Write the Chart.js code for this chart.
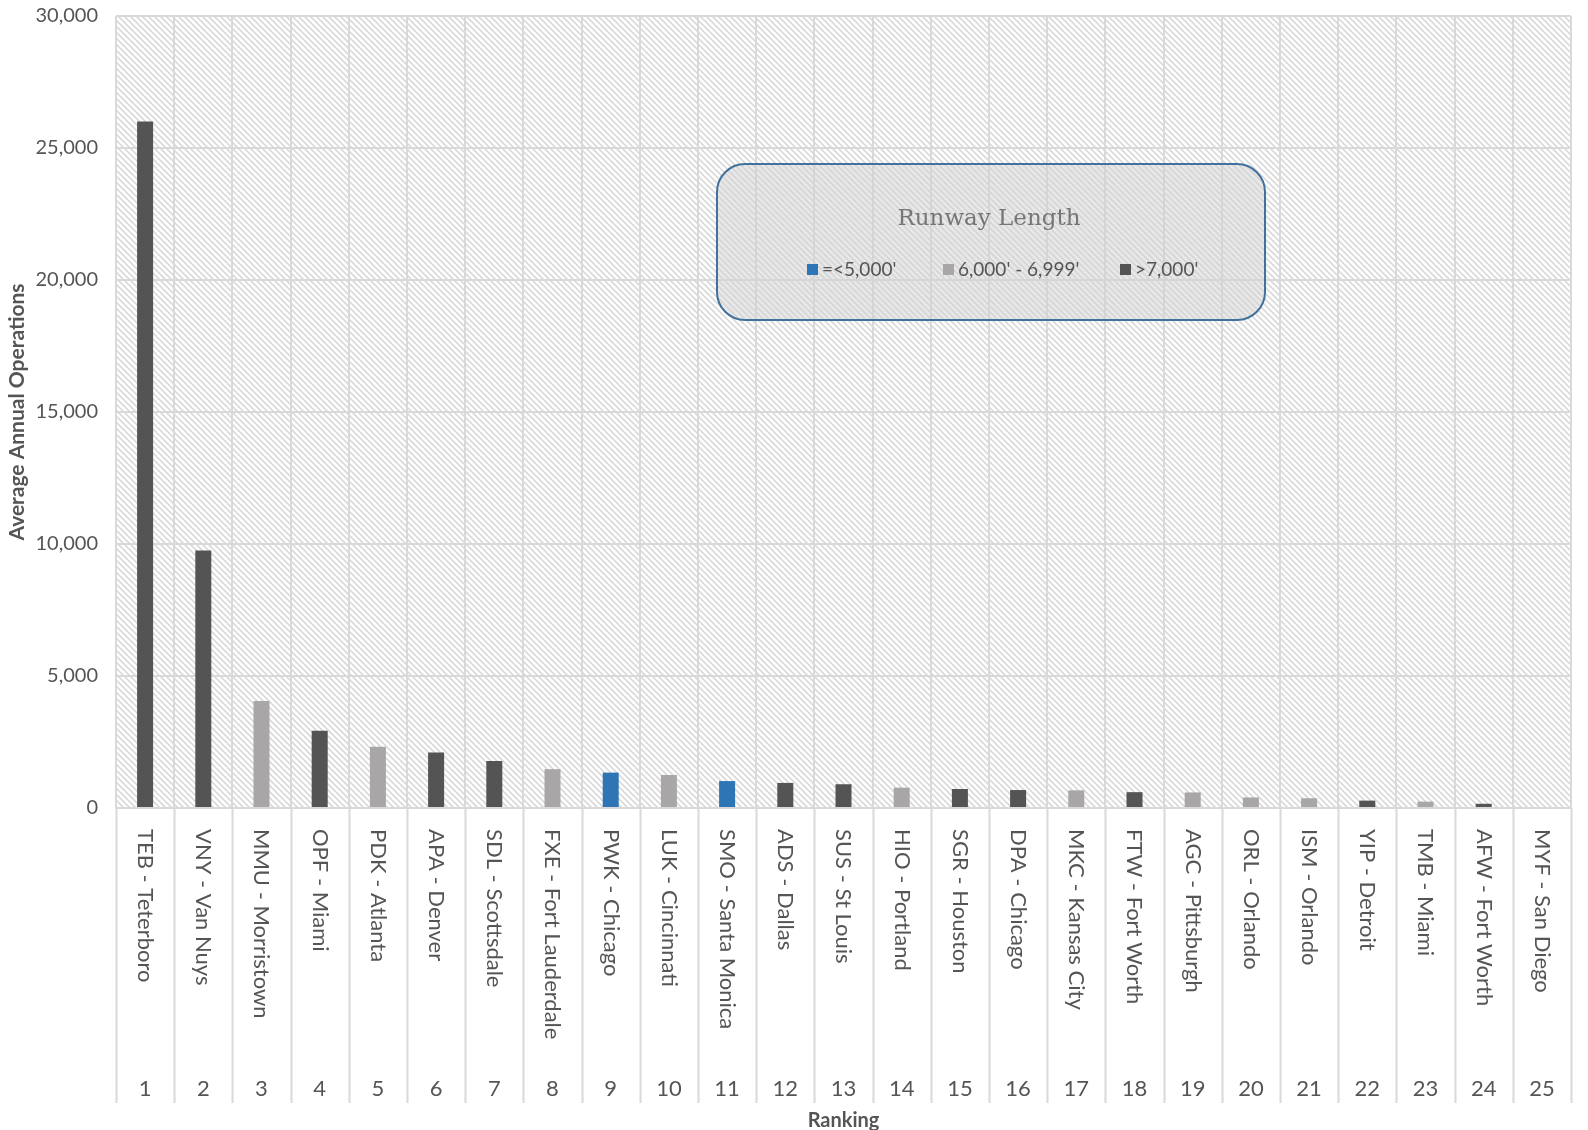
<!DOCTYPE html>
<html>
<head>
<meta charset="utf-8">
<script src="https://cdn.jsdelivr.net/npm/chart.js@4.4.1/dist/chart.umd.min.js"></script>
<style>
  html, body { margin: 0; padding: 0; background: #ffffff; }
  #wrap { width: 1588px; height: 1130px; }
</style>
</head>
<body>
<div id="wrap"><canvas id="chart" width="1588" height="1130"></canvas></div>
<script>
// Chart data
const ranking = ["1", "2", "3", "4", "5", "6", "7", "8", "9", "10", "11", "12", "13",
  "14", "15", "16", "17", "18", "19", "20", "21", "22", "23", "24", "25"]

const airports = [
  "TEB - Teterboro", "VNY - Van Nuys", "MMU - Morristown", "OPF - Miami", "PDK - Atlanta",
  "APA - Denver", "SDL - Scottsdale", "FXE - Fort Lauderdale", "PWK - Chicago", "LUK - Cincinnati",
  "SMO - Santa Monica", "ADS - Dallas", "SUS - St Louis", "HIO - Portland", "SGR - Houston",
  "DPA - Chicago", "MKC - Kansas City", "FTW - Fort Worth", "AGC - Pittsburgh", "ORL - Orlando",
  "ISM - Orlando", "YIP - Detroit", "TMB - Miami", "AFW - Fort Worth", "MYF - San Diego",
]

const operations = [26000, 9750, 4050, 2930, 2320, 2100, 1780, 1470, 1340, 1250,
  1020, 950, 900, 770, 720, 680, 670, 600, 590, 400,
  370, 280, 240, 160, 0]

// runway class of each airport: 0 = short, 1 = mid, 2 = long
const runwayClass = [2, 2, 1, 2, 1, 2, 2, 1, 0, 1,
  0, 2, 2, 1, 2, 2, 1, 2, 1, 1,
  1, 2, 1, 2, 0]

const runwayLabels = ["=<5,000'", "6,000' - 6,999'", ">7,000'"]
const runwayColors = ["#2e75b6", "#a9a6a8", "#545454"]

const yTicks = [0, 5000, 10000, 15000, 20000, 25000, 30000]

const textColor = "#555555"
const gridColor = "#d9d9d9"

function makeHatch() {
  const tile = document.createElement("canvas")
  tile.width = 6
  tile.height = 6
  const c = tile.getContext("2d")
  c.fillStyle = "#ffffff"
  c.fillRect(0, 0, 6, 6)
  c.strokeStyle = "#d9d9d9"
  c.lineWidth = 1.6
  c.beginPath()
  c.moveTo(-1, -1)
  c.lineTo(7, 7)
  c.moveTo(-4, 2)
  c.lineTo(4, 10)
  c.moveTo(2, -4)
  c.lineTo(10, 4)
  c.stroke()
  return c.createPattern(tile, "repeat")
}

const datasets = runwayLabels.map((label, k) => ({
  label: label,
  data: operations.map((v, i) => (runwayClass[i] === k ? v : null)),
  backgroundColor: runwayColors[k],
  grouped: false,
  barPercentage: 0.275,
  categoryPercentage: 1,
}))

const labelArea = {
  id: "labelArea",
  beforeDraw(chart) {
    const { ctx, chartArea } = chart
    ctx.save()
    ctx.fillStyle = "#ffffff"
    ctx.fillRect(0, 0, chart.width, chart.height)
    ctx.fillStyle = makeHatch()
    ctx.fillRect(chartArea.left, chartArea.top, chartArea.right - chartArea.left, chartArea.bottom - chartArea.top)
    ctx.restore()
  },
  afterDraw(chart) {
    const { ctx, chartArea } = chart
    const x = chart.scales.x
    const half = (x.getPixelForValue(1) - x.getPixelForValue(0)) / 2
    const bottom = chartArea.bottom + 295
    ctx.save()

    // category separators below the axis
    ctx.strokeStyle = gridColor
    ctx.lineWidth = 2
    ctx.beginPath()
    for (let i = 0; i <= airports.length; i++) {
      const px = Math.round(x.getPixelForValue(i) - half) + 0.5
      ctx.moveTo(px, chartArea.bottom)
      ctx.lineTo(px, bottom)
    }
    ctx.stroke()

    // rotated airport names, reading top to bottom
    ctx.fillStyle = textColor
    ctx.font = "22px Lato"
    ctx.textAlign = "left"
    ctx.textBaseline = "middle"
    airports.forEach((name, i) => {
      ctx.save()
      ctx.translate(x.getPixelForValue(i), chartArea.bottom + 21)
      ctx.rotate(Math.PI / 2)
      ctx.fillText(name, 0, 0)
      ctx.restore()
    })

    // ranking numbers
    ctx.textAlign = "center"
    ctx.font = "22px Lato"
    ranking.forEach((r, i) => {
      ctx.fillText(r, x.getPixelForValue(i), chartArea.bottom + 281)
    })

    ctx.font = "bold 20px Lato"
    ctx.fillText("Ranking", (chartArea.left + chartArea.right) / 2, chartArea.bottom + 313)

    // legend box
    const bx = 717, by = 164, bw = 548, bh = 156
    ctx.beginPath()
    ctx.roundRect(bx, by, bw, bh, 28)
    ctx.fillStyle = "rgba(210, 210, 210, 0.5)"
    ctx.fill()
    ctx.strokeStyle = "#41719c"
    ctx.lineWidth = 2
    ctx.stroke()

    ctx.fillStyle = "#767676"
    ctx.font = "23px 'DejaVu Serif'"
    ctx.textAlign = "center"
    ctx.fillText("Runway Length", bx + bw / 2 - 2, by + 55)

    const itemX = [807, 943, 1120]
    ctx.font = "19px Lato"
    ctx.textAlign = "left"
    runwayLabels.forEach((label, k) => {
      ctx.fillStyle = runwayColors[k]
      ctx.fillRect(itemX[k], by + 100, 11, 11)
      ctx.fillStyle = textColor
      ctx.fillText(label, itemX[k] + 15, by + 106)
    })
    ctx.restore()
  },
}

new Chart(document.getElementById("chart").getContext("2d"), {
  type: "bar",
  data: { labels: airports, datasets: datasets },
  plugins: [labelArea],
  options: {
    responsive: false,
    animation: false,
    layout: { padding: { left: 0, right: 17, top: 16, bottom: 0 } },
    plugins: { legend: { display: false }, tooltip: { enabled: false } },
    scales: {
      x: {
        offset: true,
        grid: { offset: true, color: gridColor, lineWidth: 2, drawTicks: false },
        border: { color: gridColor, width: 2 },
        ticks: { display: false },
        afterFit: (scale) => { scale.height = 322 },
      },
      y: {
        min: 0,
        max: 30000,
        afterBuildTicks: (scale) => { scale.ticks = yTicks.map((v) => ({ value: v })) },
        grid: { color: gridColor, lineWidth: 2, drawTicks: true, tickLength: 18, tickColor: "rgba(0,0,0,0)" },
        border: { display: false },
        ticks: {
          padding: 0,
          color: textColor,
          font: { family: "Lato", size: 20 },
          callback: (v) => v.toLocaleString("en-US"),
        },
        title: {
          display: true,
          text: "Average Annual Operations",
          color: textColor,
          font: { family: "Lato", size: 21, weight: "bold" },
          padding: { top: 5, bottom: 0 },
        },
        afterFit: (scale) => { scale.width = 116 },
      },
    },
  },
})
</script>
</body>
</html>
